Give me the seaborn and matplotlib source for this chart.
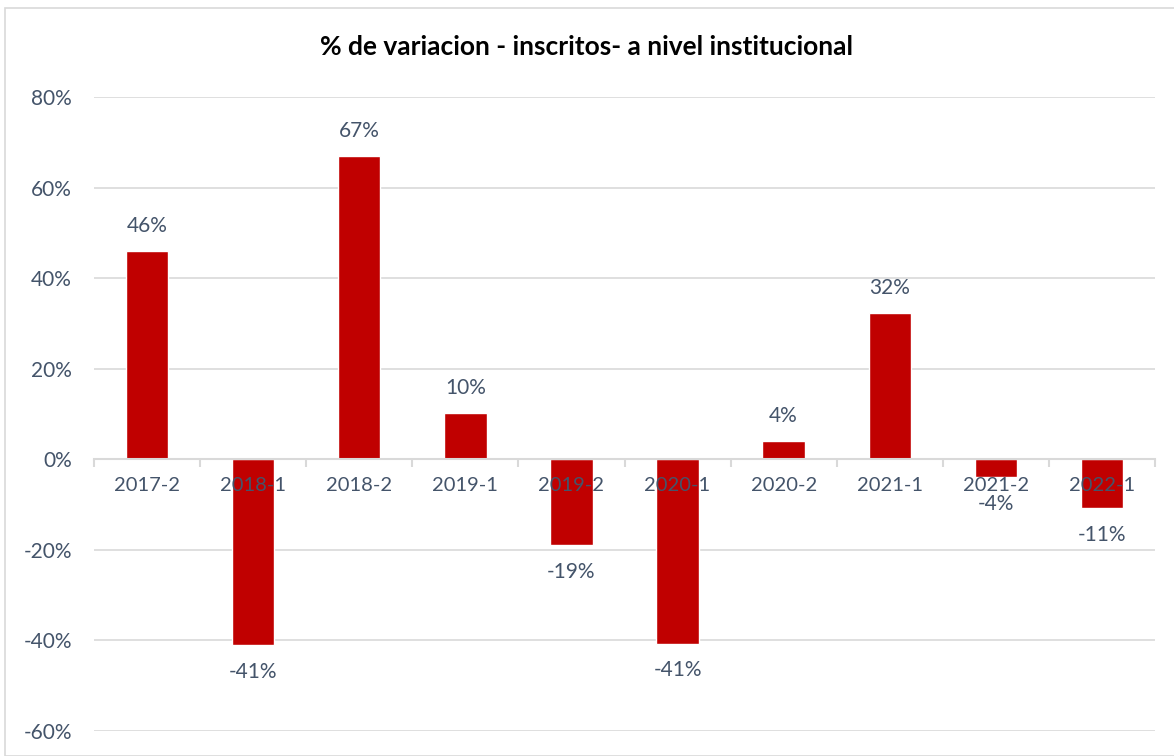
import matplotlib
matplotlib.use("Agg")
import matplotlib.pyplot as plt
import matplotlib.patches as mpatches
from matplotlib.ticker import FixedLocator
import seaborn as sns
import pandas as pd

# datos
periodos = ["2017-2", "2018-1", "2018-2", "2019-1", "2019-2",
            "2020-1", "2020-2", "2021-1", "2021-2", "2022-1"]
variacion = [46.1, -41.1, 66.9, 10.2, -19.0, -40.7, 4.0, 32.3, -4.0, -10.8]
etiquetas_y = [-60, -40, -20, 0, 20, 40, 60, 80]

sns.set_theme(style="white")
plt.rcParams['font.family'] = ['Lato', 'DejaVu Sans']

texto = "#44546A"
gris = "#D9D9D9"
rojo = "#C00000"

df = pd.DataFrame({"periodo": periodos, "variacion": variacion})

fig = plt.figure(figsize=(11.74, 7.56), dpi=100)
ax = fig.add_axes([94 / 1174, 25 / 756, (1155 - 94) / 1174, (731 - 97) / 756])

# borde del gráfico
fig.patches.append(mpatches.Rectangle((5 / 1174, 0.0), 1.0, 1 - 8 / 756,
                                      transform=fig.transFigure, fill=False,
                                      edgecolor=gris, linewidth=1.2))

# líneas de cuadrícula por debajo de las barras
for v in etiquetas_y:
    if v != 0:
        ax.axhline(v, color=gris, linewidth=1.2, zorder=0)

sns.barplot(data=df, x="periodo", y="variacion", color=rojo, width=0.4,
            saturation=1, ax=ax, zorder=1)

ax.set_ylim(-60, 80)
ax.set_xlim(-0.5, len(periodos) - 0.5)
ax.yaxis.set_major_locator(FixedLocator(etiquetas_y))
ax.set_yticklabels([f"{v}%" for v in etiquetas_y])
ax.set_xlabel("")
ax.set_ylabel("")

# eje x en el cero, con etiquetas encima de las barras
ax.set_axisbelow(False)
for s in ["top", "right", "left"]:
    ax.spines[s].set_visible(False)
ax.spines["bottom"].set_position(("data", 0))
ax.spines["bottom"].set_color(gris)
ax.spines["bottom"].set_linewidth(1.5)
ax.set_xticks([i + 0.5 for i in range(-1, len(periodos))], minor=True)
ax.tick_params(axis="x", which="major", length=0, pad=13, labelsize=14.5, labelcolor=texto)
ax.tick_params(axis="x", which="minor", length=6, width=1.5, color=gris, direction="out", bottom=True)
ax.tick_params(axis="y", length=0, pad=16, labelsize=15, labelcolor=texto)

# etiquetas de datos
for i, v in enumerate(variacion):
    off = 18 if v >= 0 else -19
    ax.annotate(f"{round(v):.0f}%", (i, v), xytext=(0, off), textcoords="offset points",
                ha="center", va="center", fontsize=15, color=texto, zorder=3)

fig.text(0.5, 1 - 47 / 756, "% de variacion - inscritos- a nivel institucional",
         ha="center", va="center", fontsize=19, fontweight="bold", color="black")

plt.savefig("out.png", dpi=100)
